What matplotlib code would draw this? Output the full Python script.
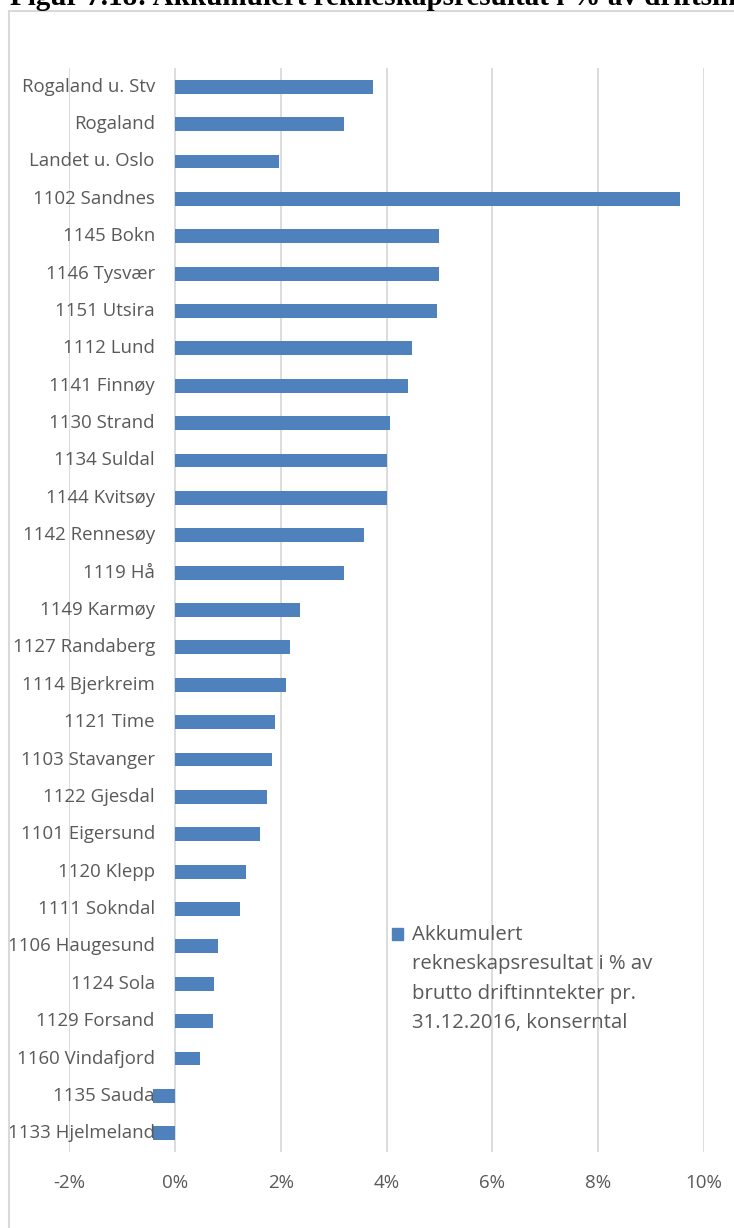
import matplotlib
matplotlib.use("Agg")
import matplotlib.pyplot as plt
from matplotlib.patches import Rectangle
from matplotlib.transforms import offset_copy

# Kommunar / område, ovanfrå og ned
kommunar = [
    "Rogaland u. Stv", "Rogaland", "Landet u. Oslo", "1102 Sandnes",
    "1145 Bokn", "1146 Tysvær", "1151 Utsira", "1112 Lund", "1141 Finnøy",
    "1130 Strand", "1134 Suldal", "1144 Kvitsøy", "1142 Rennesøy", "1119 Hå",
    "1149 Karmøy", "1127 Randaberg", "1114 Bjerkreim", "1121 Time",
    "1103 Stavanger", "1122 Gjesdal", "1101 Eigersund", "1120 Klepp",
    "1111 Sokndal", "1106 Haugesund", "1124 Sola", "1129 Forsand",
    "1160 Vindafjord", "1135 Sauda", "1133 Hjelmeland",
]
# Akkumulert rekneskapsresultat i % av brutto driftsinntekter
resultat = [
    3.74, 3.20, 1.96, 9.55,
    4.99, 4.99, 4.95, 4.48, 4.40,
    4.06, 4.00, 4.00, 3.57, 3.20,
    2.36, 2.17, 2.11, 1.89,
    1.83, 1.75, 1.60, 1.34,
    1.23, 0.81, 0.74, 0.72,
    0.47, -0.41, -0.41,
]
xticks = [-2, 0, 2, 4, 6, 8, 10]
tittel = "Figur 7.18: Akkumulert rekneskapsresultat i % av driftsinntekter"
legend_tekst = ("Akkumulert\nrekneskapsresultat i % av\n"
                "brutto driftinntekter pr.\n31.12.2016, konserntal")

W, H = 734, 1228
blue = "#4f81bd"
grey = "#595959"
gridc = "#d9d9d9"

fig = plt.figure(figsize=(W / 100, H / 100), dpi=100)
ax = fig.add_axes([69 / W, 1 - 1152 / H, (704 - 69) / W, (1152 - 68) / H])

pos = list(range(len(kommunar)))
ax.barh(pos, resultat, height=0.37, color=blue, zorder=3)
ax.set_ylim(len(kommunar) - 0.5, -0.5)
ax.set_xlim(-2, 10)

ax.set_xticks(xticks)
ax.set_xticklabels([f"{t}%" for t in xticks], fontfamily="Open Sans",
                   fontsize=13.5, color=grey)
ax.tick_params(axis="x", length=0, pad=16)
ax.set_yticks([])
for s in ax.spines.values():
    s.set_visible(False)
ax.grid(axis="x", color=gridc, linewidth=1.3, zorder=0)

# kategorinamn ved 0-aksen
lbl_tr = offset_copy(ax.transData, fig=fig, x=-20, y=0, units="dots")
for p, k in zip(pos, kommunar):
    ax.text(0, p, k, transform=lbl_tr, ha="right", va="center",
            fontfamily="Open Sans", fontsize=13.4, color=grey, zorder=4)

# forklaring
fig.patches.append(Rectangle((392 / W, 1 - 940 / H), 11 / W, 12 / H,
                             transform=fig.transFigure, color=blue))
fig.text(412 / W, 1 - 925 / H, legend_tekst, ha="left", va="top",
         fontfamily="Open Sans", fontsize=14.7, color=grey, linespacing=1.62)

# ramme og tittel
fig.patches.append(Rectangle((9 / W, -0.05), 1.1, 1.05 - 11 / H,
                             transform=fig.transFigure, fill=False,
                             edgecolor=gridc, linewidth=1.5))
fig.text(10 / W, 1 - 5 / H, tittel, ha="left", va="baseline",
         fontfamily="Liberation Serif", fontweight="bold", fontsize=21)

fig.savefig("out.png", dpi=100)
